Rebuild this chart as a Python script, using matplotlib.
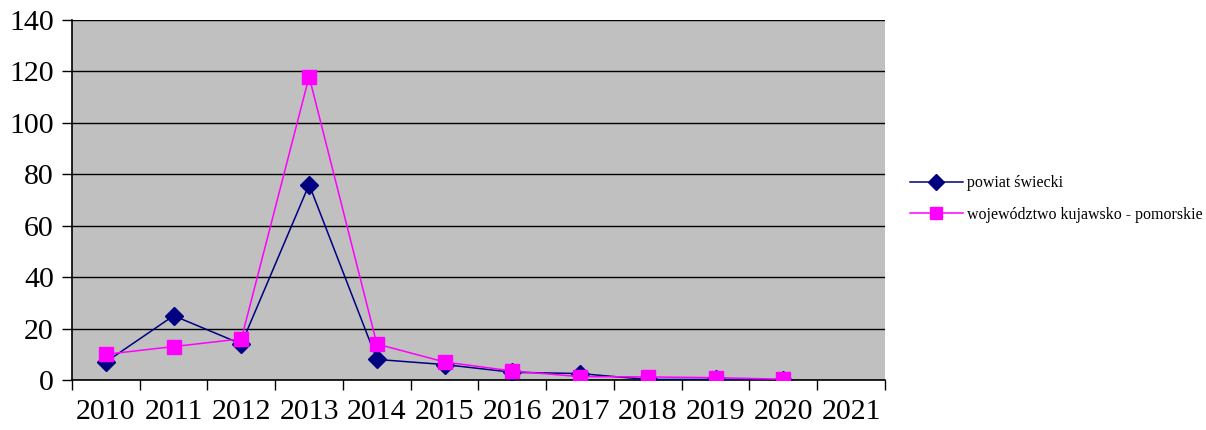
import numpy as np
import matplotlib.pyplot as plt

# -------------------------------
# Data
# -------------------------------
years = ["2010", "2011", "2012", "2013", "2014", "2015",
         "2016", "2017", "2018", "2019", "2020", "2021"]

powiat = [7, 25, 14, 76, 8, 6, 3, 2.5, 0.2, 0.2, 0.1]
wojewodztwo = [10, 13, 16, 118, 14, 7, 3.5, 1.3, 1.2, 0.9, 0.3]

plt.rcParams["font.family"] = ["Liberation Serif", "DejaVu Serif"]

fig = plt.figure(figsize=(12.06, 4.30), dpi=100)
ax = fig.add_axes([72 / 1206, 1 - 380 / 430, (885 - 72) / 1206, 360 / 430])
ax.set_facecolor("#C0C0C0")

x_p = np.arange(len(powiat))
x_w = np.arange(len(wojewodztwo))

ax.plot(x_p, powiat, color="#000080", linewidth=1.1, marker="D",
        markersize=9, label="powiat świecki", zorder=3)
ax.plot(x_w, wojewodztwo, color="#FF00FF", linewidth=1.1, marker="s",
        markersize=10, label="województwo kujawsko - pomorskie", zorder=4)

# axes limits and ticks
ax.set_xlim(-0.5, len(years) - 0.5)
ax.set_ylim(0, 140)
ax.set_yticks(np.arange(0, 141, 20))
ax.yaxis.grid(True, color="black", linewidth=1)
ax.set_axisbelow(True)

# category labels in the middle, tick marks on the boundaries
ax.set_xticks(np.arange(len(years)))
ax.set_xticklabels(years)
ax.set_xticks(np.arange(-0.5, len(years)), minor=True)
ax.tick_params(axis="x", which="major", length=0, labelsize=21.5, pad=14)
ax.tick_params(axis="x", which="minor", length=7, width=1, direction="out")
ax.tick_params(axis="y", length=7, width=1, labelsize=21.5, pad=6)

for side in ["top", "right"]:
    ax.spines[side].set_visible(False)
ax.spines["left"].set_linewidth(1.2)
ax.spines["bottom"].set_linewidth(1.2)

# legend to the right of the plot, no frame
leg = fig.legend(loc="center left", bbox_to_anchor=(910 / 1206, 1 - 199 / 430),
                 frameon=False, fontsize=11.5, handlelength=3.3,
                 labelspacing=0.95, handletextpad=0.25,
                 borderpad=0, borderaxespad=0)
for h in leg.legend_handles:
    h.set_markersize(8)

fig.savefig("out.png", dpi=100)
